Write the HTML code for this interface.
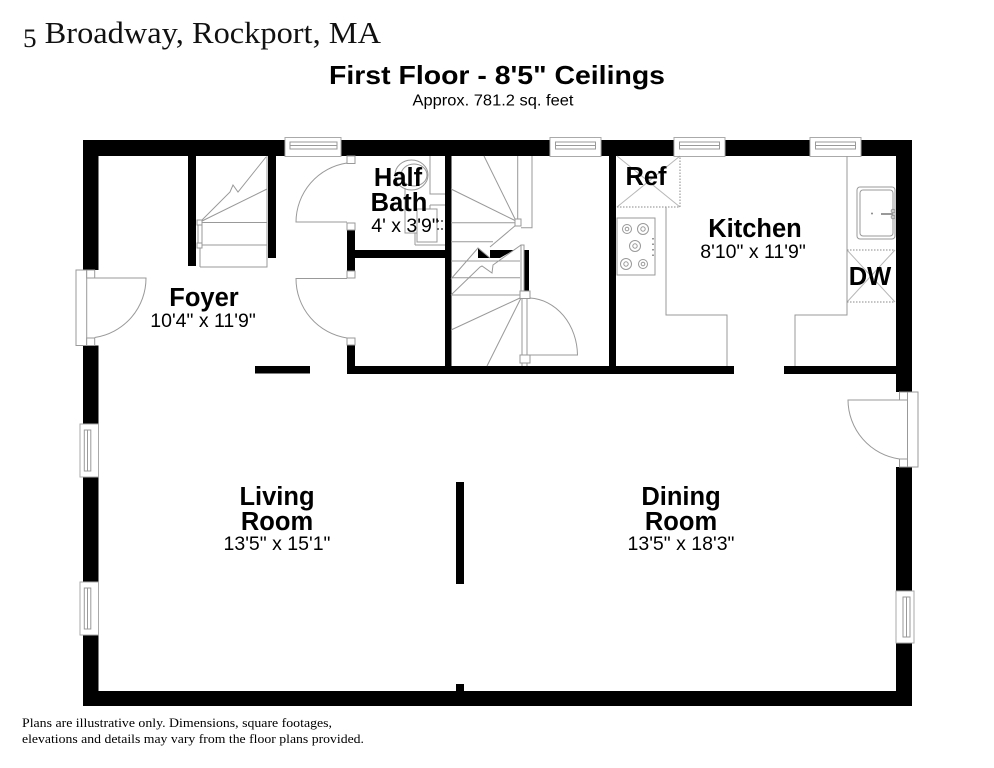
<!DOCTYPE html>
<html>
<head>
<meta charset="utf-8">
<style>
html,body{margin:0;padding:0;background:#fff;width:994px;height:768px;overflow:hidden}
svg{display:block}
.w{fill:#000}
.l{fill:none;stroke:#999;stroke-width:1}
.f{fill:#fff;stroke:#999;stroke-width:1}
.d{fill:none;stroke:#888;stroke-width:1;stroke-dasharray:1.5 1.5}
text{font-family:"Liberation Sans",sans-serif;fill:#000;text-anchor:middle}
.n{font-size:25.5px;font-weight:bold}
.s{font-size:19.5px}
</style>
</head>
<body>
<svg width="994" height="768" viewBox="0 0 994 768" xmlns="http://www.w3.org/2000/svg">
<rect width="994" height="768" fill="#fff"/>
<!-- outer walls -->
<rect class="w" x="83" y="140" width="829" height="16"/>
<rect class="w" x="83" y="140" width="15.500" height="566"/>
<rect class="w" x="83" y="691" width="829" height="15"/>
<rect class="w" x="896" y="140" width="16" height="566"/>
<!-- inner walls -->
<rect class="w" x="188" y="156" width="8" height="110"/>
<rect class="w" x="268" y="156" width="8" height="102"/>
<rect class="w" x="347" y="230" width="8" height="41"/>
<rect class="w" x="347" y="345" width="8" height="29"/>
<rect class="w" x="347" y="250" width="98" height="8"/>
<rect class="w" x="445" y="156" width="6.500" height="218"/>
<rect class="w" x="347" y="366" width="387" height="8"/>
<rect class="w" x="784" y="366" width="112" height="8"/>
<rect class="w" x="255" y="366" width="55" height="7.500"/>
<rect class="w" x="609" y="156" width="7" height="212"/>
<rect class="w" x="456" y="482" width="8" height="102"/>
<rect class="w" x="456" y="684" width="8" height="8"/>
<rect class="w" x="524" y="250" width="5" height="42"/>
<polygon class="w" points="478,248 490,258 478,258"/>
<polygon class="w" points="490,250 514,250 500,258 490,258"/>
<!-- windows top -->
<g>
<rect x="285" y="137.500" width="56" height="19" fill="#fff" stroke="#aaa"/><rect class="l" x="290" y="142" width="47" height="7"/><path class="l" d="M290,145.500H337"/>
<rect x="550" y="137.500" width="51" height="19" fill="#fff" stroke="#aaa"/><rect class="l" x="555.500" y="142" width="40" height="7"/><path class="l" d="M555.500,145.500H595.500"/>
<rect x="674" y="137.500" width="51" height="19" fill="#fff" stroke="#aaa"/><rect class="l" x="679.500" y="142" width="40" height="7"/><path class="l" d="M679.500,145.500H719.500"/>
<rect x="810" y="137.500" width="51" height="19" fill="#fff" stroke="#aaa"/><rect class="l" x="815.500" y="142" width="40" height="7"/><path class="l" d="M815.500,145.500H855.500"/>
</g>
<!-- left windows -->
<rect x="80" y="424" width="18.500" height="53" fill="#fff" stroke="#aaa"/><rect class="l" x="84.300" y="430" width="6.500" height="41"/><path class="l" d="M87.500,430V471"/>
<rect x="80" y="582" width="18.500" height="53" fill="#fff" stroke="#aaa"/><rect class="l" x="84.300" y="588" width="6.500" height="41"/><path class="l" d="M87.500,588V629"/>
<!-- right window -->
<rect x="896" y="591" width="18" height="52" fill="#fff" stroke="#aaa"/><rect class="l" x="903" y="597" width="7" height="40"/><path class="l" d="M906.500,597V637"/>
<!-- left door -->
<rect x="83" y="270" width="15.500" height="75.500" fill="#fff"/>
<rect x="76" y="270" width="10.700" height="75.500" class="f"/>
<rect x="86.700" y="270" width="8" height="8" class="f"/>
<rect x="86.700" y="338" width="8" height="7.500" class="f"/>
<path class="l" d="M86.700,278H146A60,60 0 0 1 94.700,337.500"/>
<!-- right door -->
<rect x="896" y="392" width="16" height="75" fill="#fff"/>
<rect x="907.500" y="392" width="10.500" height="75" class="f"/>
<rect x="899.500" y="392" width="8" height="8" class="f"/>
<rect x="899.500" y="459" width="8" height="8" class="f"/>
<path class="l" d="M907.500,400H848A60,60 0 0 0 899.500,459"/>
<!-- half bath / foyer door -->
<rect x="347" y="156" width="8" height="7.500" class="f"/>
<rect x="347" y="223" width="8" height="7" class="f"/>
<path class="l" d="M347,163A60,60 0 0 0 296,222H347"/>
<rect x="347" y="271" width="8" height="7" class="f"/>
<rect x="347" y="338" width="8" height="7" class="f"/>
<path class="l" d="M347,278.500H296A60,60 0 0 0 347,338"/>
<!-- foyer stairs -->
<path class="l" d="M200,222.500H267M200,245H267M200,267H267V156M200,248V267"/>
<path class="l" d="M200,222L230,192L233,185L238,192L266,157M200,222L267,189"/>
<rect x="197" y="220" width="5" height="5" class="f"/>
<rect x="197" y="243" width="5" height="5" class="f"/>
<path class="l" d="M198,225V243M202,225V243"/>
<!-- half bath fixtures -->
<ellipse cx="411.500" cy="175" rx="16.500" ry="15" class="l"/>
<ellipse cx="414" cy="175" rx="13" ry="11" class="l"/>
<path class="l" d="M430,156V194H445M405,188V233H417M430,205H445M430,205V209M415,245H445M415,233V245"/>
<rect class="l" x="417" y="209" width="20" height="33"/>
<path d="M437,221H444M437,229H444" stroke="#444" stroke-width="1.500" stroke-dasharray="2 2" fill="none"/>
<!-- main stairs -->
<path class="l" d="M484,156L516,221M451,189L516,221M451,222.700H516M451,241.700H493M451,261H520M451,277.700H520M451,295H520M451,330L520,298M487,366L521,298"/>
<path class="l" d="M517.700,219V156M517.700,156M532,156V227.700H521"/>
<path class="l" d="M516,225L490,247"/>
<path class="l" d="M451,279L478,248L490,258M451,295L480,267L482,266L492,273L493,265L521,245"/>
<rect x="515" y="219" width="6" height="7" class="f"/>
<path class="f" d="M521,245H524V291H521Z"/>
<path class="l" d="M522,298V366M527,298V366"/>
<rect x="520" y="291" width="10" height="7.500" class="f"/>
<rect x="520" y="355" width="10" height="8" class="f"/>
<path class="l" d="M530,298A50,58 0 0 1 577.500,355H530"/>
<!-- kitchen -->
<path class="l" d="M666,207V315H727V366M847,156V315H795V366"/>
<path class="d" d="M617,207H680V156"/>
<path class="l" d="M617,156L680,207M680,156L617,207" stroke-opacity=".7"/>
<rect x="617" y="218" width="38" height="57" class="f"/>
<g class="l">
<circle cx="627" cy="229" r="4.500"/><circle cx="627" cy="229" r="1.800"/>
<circle cx="643" cy="229" r="5.500"/><circle cx="643" cy="229" r="2.200"/>
<circle cx="635" cy="246" r="5.500"/><circle cx="635" cy="246" r="2.200"/>
<circle cx="626" cy="264" r="5.500"/><circle cx="626" cy="264" r="2.200"/>
<circle cx="643" cy="264" r="4.500"/><circle cx="643" cy="264" r="1.800"/>
</g>
<path d="M653,238V257" stroke="#777" stroke-width="1.500" stroke-dasharray="1.500 4" fill="none"/>
<!-- sink -->
<rect x="857" y="187" width="38" height="52" rx="3" class="l"/>
<rect x="860" y="190" width="33" height="46" rx="3" class="l"/>
<circle cx="872" cy="213.500" r="1" fill="#888"/>
<path d="M881,214H893" stroke="#999" stroke-width="2" fill="none"/>
<circle cx="893" cy="211" r="1.800" class="l"/><circle cx="893" cy="217" r="1.800" class="l"/>
<!-- DW -->
<path class="d" d="M847,250H895M847,302H895"/>
<path class="l" d="M847,250L895,302M895,250L847,302" stroke-opacity=".7"/>
<!-- labels -->
<text x="23" y="43" style="font-family:'Liberation Serif',serif;font-size:31px;text-anchor:start;fill:#111" textLength="358" lengthAdjust="spacingAndGlyphs"><tspan font-size="26" dy="4">5</tspan><tspan dy="-4"> Broadway, Rockport, MA</tspan></text>
<text x="497" y="84" style="font-size:26px;font-weight:bold" textLength="336" lengthAdjust="spacingAndGlyphs">First Floor - 8'5" Ceilings</text>
<text x="493" y="105.500" style="font-size:15.500px" textLength="161" lengthAdjust="spacingAndGlyphs">Approx. 781.2 sq. feet</text>
<text class="n" x="398" y="186">Half</text>
<text class="n" x="399" y="211">Bath</text>
<text class="s" x="405" y="232">4' x 3'9"</text>
<text class="n" x="204" y="306">Foyer</text>
<text class="s" x="203" y="327">10'4" x 11'9"</text>
<text class="n" x="646" y="185">Ref</text>
<text class="n" x="755" y="237">Kitchen</text>
<text class="s" x="753" y="258">8'10" x 11'9"</text>
<text class="n" x="870" y="285">DW</text>
<text class="n" x="277" y="505">Living</text>
<text class="n" x="277" y="530">Room</text>
<text class="s" x="277" y="550">13'5" x 15'1"</text>
<text class="n" x="681" y="505">Dining</text>
<text class="n" x="681" y="530">Room</text>
<text class="s" x="681" y="550">13'5" x 18'3"</text>
<text x="22" y="727" style="font-family:'Liberation Serif',serif;font-size:13px;text-anchor:start" textLength="310" lengthAdjust="spacingAndGlyphs">Plans are illustrative only. Dimensions, square footages,</text>
<text x="22" y="743" style="font-family:'Liberation Serif',serif;font-size:13px;text-anchor:start" textLength="342" lengthAdjust="spacingAndGlyphs">elevations and details may vary from the floor plans provided.</text>
</svg>
</body>
</html>
